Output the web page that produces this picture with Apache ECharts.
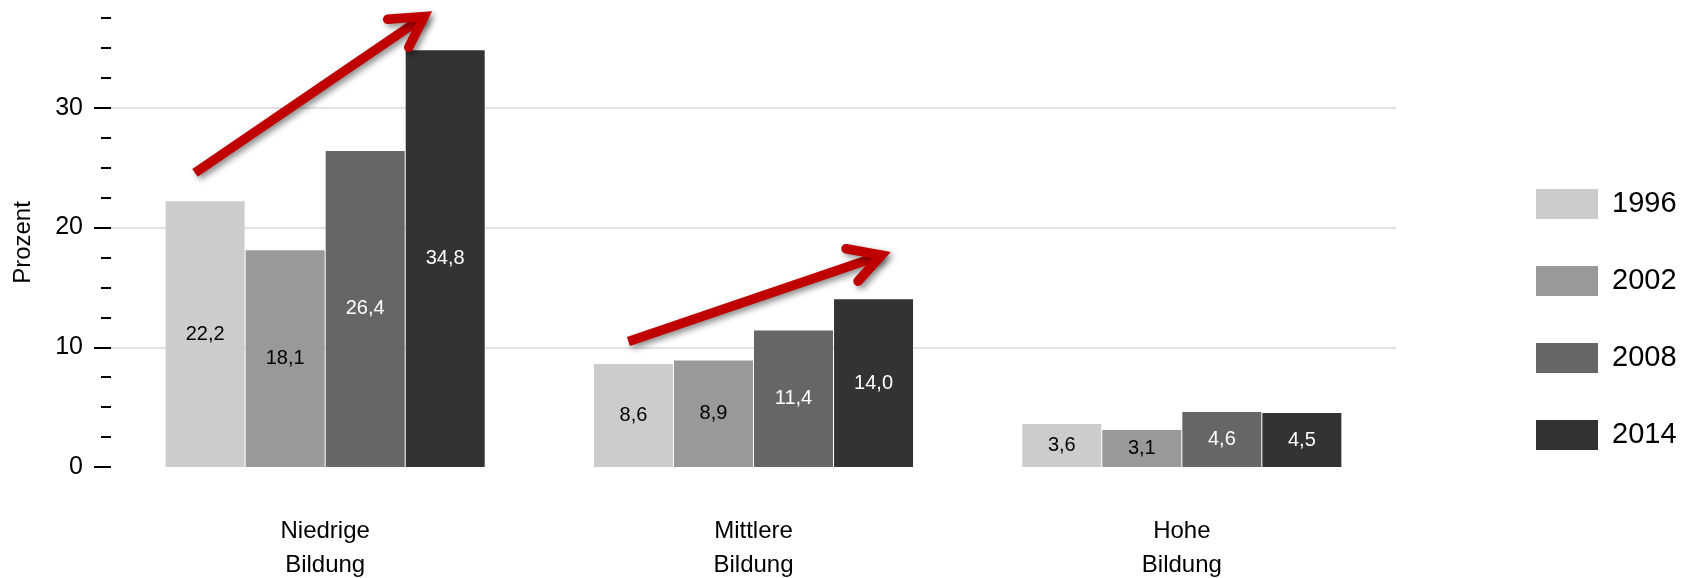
<!DOCTYPE html>
<html>
<head>
<meta charset="utf-8">
<script src="https://cdn.jsdelivr.net/npm/echarts@6/dist/echarts.min.js"></script>
<style>
  html, body { margin: 0; padding: 0; background: #ffffff; }
  #chart { width: 1692px; height: 578px; }
</style>
</head>
<body>
<div id="chart"></div>
<script>
// ---- data ----
const CATEGORIES = ['Niedrige\nBildung', 'Mittlere\nBildung', 'Hohe\nBildung'];
const YEARS = ['1996', '2002', '2008', '2014'];
const V1996 = [22.2, 8.6, 3.6];
const V2002 = [18.1, 8.9, 3.1];
const V2008 = [26.4, 11.4, 4.6];
const V2014 = [34.8, 14.0, 4.5];
const Y_MIN = 0;
const Y_MAX = 37.5;
const Y_MINOR_STEP = 2.5;
const Y_LABELS = [0, 10, 20, 30];
const Y_NAME = 'Prozent';
// arrow annotations in data units (x: category index + offset, y: percent)
const ARROW1_SHAFT = [[-0.304, 24.56], [0.231, 37.62]];
const ARROW1_HEAD = [[0.146, 37.39], [0.231, 37.62], [0.195, 35.05]];
const ARROW2_SHAFT = [[0.708, 10.49], [1.299, 17.69]];
const ARROW2_HEAD = [[1.216, 18.23], [1.299, 17.69], [1.244, 15.51]];

// ---- styles ----
const FONT = "'Liberation Sans', Arial, sans-serif";
const BAR_COLORS = ['#cccccc', '#999999', '#666666', '#333333'];
const LABEL_COLORS = ['#000000', '#000000', '#ffffff', '#ffffff'];
const ARROW_COLOR = '#c00000';

const VALUES = [V1996, V2002, V2008, V2014];
const fmt = v => v.toFixed(1).replace('.', ',');

const barSeries = YEARS.map((y, i) => ({
  name: y,
  type: 'bar',
  xAxisIndex: 0,
  yAxisIndex: 0,
  data: VALUES[i],
  barWidth: 79,
  barGap: '1.3%',
  itemStyle: { color: BAR_COLORS[i] },
  label: {
    show: true,
    position: 'inside',
    formatter: p => fmt(p.value),
    color: LABEL_COLORS[i],
    fontSize: 20,
    fontFamily: FONT
  },
  emphasis: { disabled: true },
  z: 2
}));

function arrowSeries(data, cap) {
  return {
    type: 'line',
    xAxisIndex: 1,
    yAxisIndex: 0,
    data: data,
    symbol: 'none',
    showSymbol: false,
    clip: false,
    silent: true,
    z: 10,
    lineStyle: {
      color: ARROW_COLOR,
      width: 9.5,
      cap: cap,
      join: 'miter',
      miterLimit: 10,
      shadowColor: 'rgba(0,0,0,0.45)',
      shadowBlur: 6,
      shadowOffsetX: 3,
      shadowOffsetY: 3
    },
    emphasis: { disabled: true }
  };
}

const chart = echarts.init(document.getElementById('chart'), null, { renderer: 'canvas' });
chart.setOption({
  animation: false,
  backgroundColor: '#ffffff',
  textStyle: { fontFamily: FONT },
  grid: { left: 111, right: 296, top: 18, bottom: 111, containLabel: false, outerBoundsMode: 'none' },
  legend: {
    data: YEARS,
    orient: 'vertical',
    left: 1536,
    top: 189,
    padding: 0,
    icon: 'rect',
    itemWidth: 62,
    itemHeight: 30,
    itemGap: 47,
    selectedMode: false,
    textStyle: {
      fontSize: 29,
      fontFamily: FONT,
      color: '#000000',
      lineHeight: 30,
      padding: [0, 0, 0, 9]
    }
  },
  xAxis: [
    {
      type: 'category',
      data: CATEGORIES,
      axisLine: { show: false },
      axisTick: { show: false },
      splitLine: { show: false },
      axisLabel: {
        color: '#000000',
        fontSize: 24,
        lineHeight: 34,
        margin: 47,
        fontFamily: FONT,
        interval: 0
      }
    },
    {
      type: 'value',
      min: -0.5,
      max: 2.5,
      show: false
    }
  ],
  yAxis: [
    {
      type: 'value',
      position: 'left',
      min: Y_MIN,
      max: Y_MAX,
      interval: Y_MINOR_STEP,
      axisLine: { show: false, onZero: false },
      axisTick: { show: true, length: 10, lineStyle: { color: '#000000', width: 2 } },
      axisLabel: { show: false },
      splitLine: { show: false }
    },
    {
      type: 'value',
      position: 'left',
      min: Y_MIN,
      max: Y_MAX,
      interval: 10,
      name: Y_NAME,
      nameLocation: 'middle',
      nameGap: 76,
      nameTextStyle: { fontSize: 24, color: '#000000', fontFamily: FONT },
      axisLine: { show: false, onZero: false },
      axisTick: { show: true, length: 17, customValues: Y_LABELS, lineStyle: { color: '#000000', width: 2 } },
      axisLabel: {
        show: true,
        customValues: Y_LABELS,
        fontSize: 25,
        color: '#000000',
        margin: 28,
        fontFamily: FONT
      },
      splitLine: {
        show: true,
        showMinLine: false,
        showMaxLine: true,
        lineStyle: { color: '#e2e2e2', width: 2 }
      }
    }
  ],
  series: barSeries.concat([
    arrowSeries(ARROW1_SHAFT, 'butt'),
    arrowSeries(ARROW1_HEAD, 'round'),
    arrowSeries(ARROW2_SHAFT, 'butt'),
    arrowSeries(ARROW2_HEAD, 'round')
  ])
});
</script>
</body>
</html>
